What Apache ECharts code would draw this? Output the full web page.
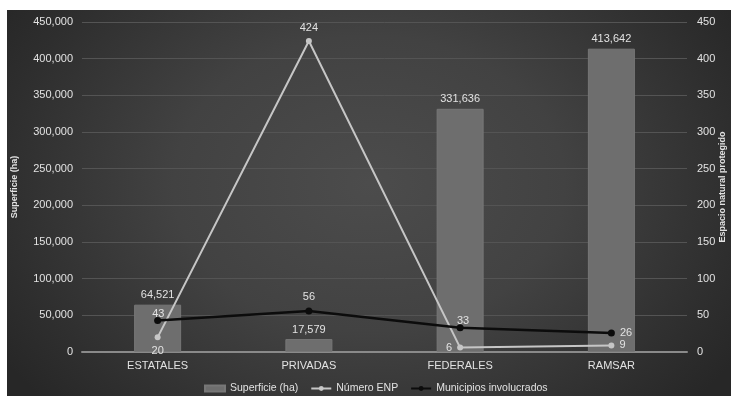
<!DOCTYPE html>
<html>
<head>
<meta charset="utf-8">
<script src="https://cdn.jsdelivr.net/npm/echarts@6/dist/echarts.min.js"></script>
<style>
  html, body { margin: 0; padding: 0; background: #ffffff; }
  #chart {
    position: absolute; left: 7px; top: 10px; width: 724px; height: 386px;
    background: radial-gradient(ellipse 60% 85% at 50% 45%, #4c4c4c 0%, #424242 45%, #2e2e2e 85%, #272727 100%);
  }
</style>
</head>
<body>
<div id="chart"></div>
<script>
// Áreas naturales protegidas por tipo
const categories = ['ESTATALES', 'PRIVADAS', 'FEDERALES', 'RAMSAR'];
const superficieHa = [64521, 17579, 331636, 413642];
const numeroENP = [20, 424, 6, 9];
const municipios = [43, 56, 33, 26];
const leftTicks = [0, 450000, 50000];   // min, max, interval
const rightTicks = [0, 450, 50];

const font = 'Liberation Sans, Arial, sans-serif';
const txt = '#e2e2e2';

const enpPos = ['bottom', 'top', 'left', 'right'];
const munPos = [['-28%', '-120%'], 'top', ['5%', '-120%'], 'right'];

const chart = echarts.init(document.getElementById('chart'));
chart.setOption({
  backgroundColor: 'transparent',
  textStyle: { fontFamily: font },
  grid: { left: 75, right: 44, top: 12, bottom: 44, containLabel: false, outerBoundsMode: 'none' },
  legend: {
    left: 192, top: 368,
    itemWidth: 20, itemHeight: 6, itemGap: 12,
    textStyle: { color: txt, fontSize: 10.5, fontFamily: font },
    data: [
      { name: 'Superficie (ha)', icon: 'rect' },
      { name: 'Número ENP' },
      { name: 'Municipios involucrados' }
    ]
  },
  xAxis: {
    type: 'category',
    data: categories,
    axisLine: { lineStyle: { color: '#8a8a8a', width: 2 } },
    axisTick: { show: false },
    axisLabel: { color: txt, fontSize: 11, margin: 8 }
  },
  yAxis: [
    {
      type: 'value', min: leftTicks[0], max: leftTicks[1], interval: leftTicks[2],
      name: 'Superficie (ha)', nameLocation: 'middle', nameGap: 63, nameRotate: 90,
      nameMoveOverlap: false,
      nameTextStyle: { color: txt, fontSize: 9, fontWeight: 'bold' },
      axisLine: { show: false }, axisTick: { show: false },
      axisLabel: { color: txt, fontSize: 11, margin: 9,
        formatter: v => v.toLocaleString('en-US') },
      splitLine: { lineStyle: { color: '#545454', width: 1 } }
    },
    {
      type: 'value', min: rightTicks[0], max: rightTicks[1], interval: rightTicks[2],
      name: 'Espacio natural protegido', nameLocation: 'middle', nameGap: 31, nameRotate: 90,
      nameMoveOverlap: false,
      nameTextStyle: { color: txt, fontSize: 9, fontWeight: 'bold' },
      axisLine: { show: false }, axisTick: { show: false },
      axisLabel: { color: txt, fontSize: 11, margin: 10 },
      splitLine: { show: false }
    }
  ],
  series: [
    {
      name: 'Superficie (ha)', type: 'bar', yAxisIndex: 0,
      data: superficieHa, barWidth: 47,
      itemStyle: { color: '#6e6e6e', borderColor: '#777777', borderWidth: 1 },
      label: { show: true, position: 'top', color: txt, fontSize: 11, distance: 4,
        formatter: p => p.value.toLocaleString('en-US') },
      z: 1
    },
    {
      name: 'Número ENP', type: 'line', yAxisIndex: 1,
      data: numeroENP.map((v, i) => ({ value: v, label: { position: enpPos[i] } })),
      lineStyle: { color: '#c6c6c6', width: 2 },
      itemStyle: { color: '#c6c6c6' },
      symbol: 'circle', symbolSize: 6,
      label: { show: true, color: txt, fontSize: 11, distance: 5 },
      z: 3
    },
    {
      name: 'Municipios involucrados', type: 'line', yAxisIndex: 1,
      data: municipios.map((v, i) => ({ value: v, label: { position: munPos[i] } })),
      lineStyle: { color: '#0c0c0c', width: 2.5 },
      itemStyle: { color: '#0c0c0c' },
      symbol: 'circle', symbolSize: 7,
      label: { show: true, color: txt, fontSize: 11, distance: 5 },
      z: 4
    }
  ]
});
</script>
</body>
</html>
